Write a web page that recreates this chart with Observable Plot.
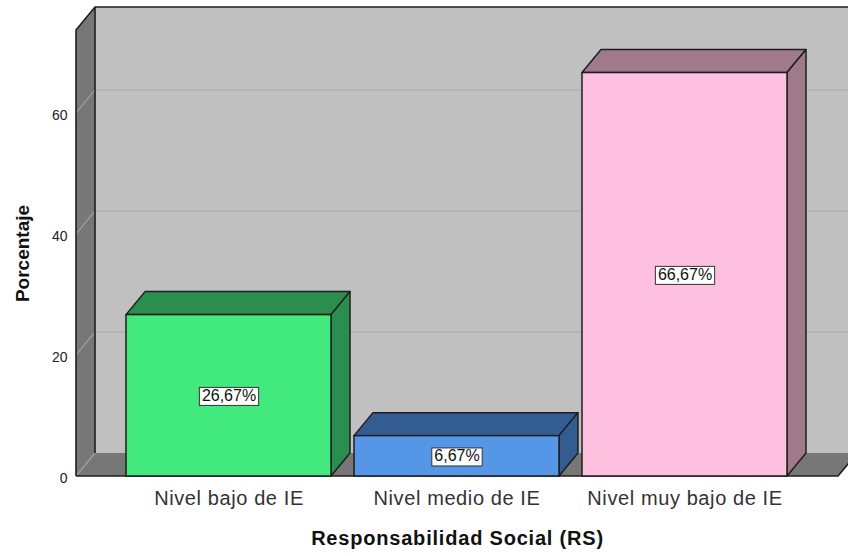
<!DOCTYPE html>
<html><head><meta charset="utf-8">
<script src="https://cdn.jsdelivr.net/npm/d3@7"></script>
<script src="https://cdn.jsdelivr.net/npm/@observablehq/plot@0.6"></script>
<style>
html,body{margin:0;padding:0;background:#fff;overflow:hidden}
#chart svg{display:block;overflow:hidden}
</style></head><body><div id="chart"></div>
<script>
// ---- data ----
const categories = ["Nivel bajo de IE", "Nivel medio de IE", "Nivel muy bajo de IE"];
const percentages = [26.67, 6.67, 66.67];
const yTicks = [0, 20, 40, 60];
const yMax = 73.7;
const xTitle = "Responsabilidad Social (RS)";
const yTitle = "Porcentaje";
const frontColors = ["#42e97c", "#5597e6", "#ffc0e0"];
const sideColors = ["#2a8f4e", "#335d90", "#a07a8a"];

// ---- style constants (pixels) ----
const DX = 19, DY = 23;
const EDGE = "#1e1e1e";

const data = categories.map((c, i) => ({
  category: c,
  value: percentages[i],
  side: sideColors[i],
  label: percentages[i].toFixed(2).replace(".", ",") + "%"
}));

function walls(index, scales, values, dim) {
  const y = scales.y;
  const L = dim.marginLeft, R = dim.width - dim.marginRight, B = y(0), T = y(yMax);
  const g = d3.create("svg:g");
  g.append("rect").attr("x", L + DX).attr("y", T - DY).attr("width", R - L).attr("height", B - T).attr("fill", "#c0c0c0");
  g.append("path").attr("d", `M${L},${B}L${L},${T}L${L+DX},${T-DY}L${L+DX},${B-DY}Z`).attr("fill", "#777777");
  g.append("path").attr("d", `M${L},${B}L${R},${B}L${R+DX},${B-DY}L${L+DX},${B-DY}Z`).attr("fill", "#777777");
  for (const t of yTicks.slice(1)) {
    const yy = y(t);
    g.append("path").attr("d", `M${L},${yy}L${L+DX},${yy-DY}`).attr("stroke", "#a0a0a0").attr("stroke-width", 1.2).attr("fill", "none");
    g.append("path").attr("d", `M${L+DX},${yy-DY}L${R+DX},${yy-DY}`).attr("stroke", "#b0b0b0").attr("stroke-width", 1.5).attr("fill", "none");
  }
  g.append("path").attr("d", `M${L},${B}L${L+DX},${B-DY}`).attr("stroke", "#a0a0a0").attr("stroke-width", 1.2).attr("fill", "none");
  g.append("path").attr("d", `M${L},${B}L${L},${T}L${L+DX},${T-DY}L${R+DX+40},${T-DY}`).attr("stroke", EDGE).attr("stroke-width", 1.6).attr("fill", "none").attr("stroke-linejoin", "round");
  g.append("path").attr("d", `M${L+DX},${T-DY}L${L+DX},${B-DY}`).attr("stroke", EDGE).attr("stroke-width", 1.6).attr("fill", "none");
  g.append("path").attr("d", `M${L},${B}L${R},${B}L${R+DX},${B-DY}`).attr("stroke", EDGE).attr("stroke-width", 1.6).attr("fill", "none").attr("stroke-linejoin", "round");
  return g.node();
}

function depthFaces(index, scales) {
  const {x, y} = scales;
  const bw = typeof x.bandwidth === "function" ? x.bandwidth() : 0;
  const g = d3.create("svg:g");
  for (const d of data) {
    const x0 = x(d.category), x1 = x0 + bw, y0 = y(0), y1 = y(d.value);
    g.append("path")
      .attr("d", `M${x0},${y1}L${x0+DX},${y1-DY}L${x1+DX},${y1-DY}L${x1},${y1}Z`)
      .attr("fill", d.side).attr("stroke", EDGE).attr("stroke-width", 1.5).attr("stroke-linejoin", "round");
    g.append("path")
      .attr("d", `M${x1},${y1}L${x1+DX},${y1-DY}L${x1+DX},${y0-DY}L${x1},${y0}Z`)
      .attr("fill", d.side).attr("stroke", EDGE).attr("stroke-width", 1.5).attr("stroke-linejoin", "round");
  }
  return g.node();
}

const chart = Plot.plot({
  width: 848,
  height: 556,
  marginLeft: 76,
  marginRight: 10,
  marginTop: 30,
  marginBottom: 80,
  style: {fontFamily: "'Liberation Sans', Arial, sans-serif", background: "#fff"},
  x: {domain: categories, paddingInner: 0.1, paddingOuter: 0.214, align: 0.5},
  y: {domain: [0, yMax]},
  color: {domain: categories, range: frontColors},
  marks: [
    walls,
    depthFaces,
    Plot.barY(data, {x: "category", y: "value", fill: "category", stroke: EDGE, strokeWidth: 1.5}),
    Plot.text(data, {x: "category", y: d => d.value / 2, text: "label", fontSize: 16, fill: "#111"}),
    Plot.axisY({ticks: yTicks, tickSize: 0, tickPadding: 9, fontSize: 14, color: "#222", label: null, dy: 2}),
    Plot.axisX({tickSize: 0, tickPadding: 14, fontSize: 20, color: "#333", label: null, style: {letterSpacing: "0.5px"}}),
    Plot.text([yTitle], {frameAnchor: "left", textAnchor: "middle", dx: -54, rotate: -90, fontWeight: "bold", fontSize: 19, fill: "#111"}),
    Plot.text([xTitle], {frameAnchor: "bottom", dy: 68, fontWeight: "bold", fontSize: 20, fill: "#111"})
  ]
});
document.getElementById("chart").appendChild(chart);

// letter spacing for the x tick labels and x title
chart.querySelectorAll("text").forEach(t => {
  if (categories.includes(t.textContent)) t.setAttribute("letter-spacing", "0.6");
  if (t.textContent === xTitle) t.setAttribute("letter-spacing", "0.8");
});

// white boxes behind the value labels
chart.querySelectorAll("text").forEach(t => {
  if (!/%$/.test(t.textContent) || t.closest("[aria-label*='axis']")) return;
  const b = t.getBBox();
  const r = document.createElementNS("http://www.w3.org/2000/svg", "rect");
  r.setAttribute("x", b.x - 2.5);
  r.setAttribute("y", b.y + 0.5);
  r.setAttribute("width", b.width + 5);
  r.setAttribute("height", b.height + 1);
  r.setAttribute("fill", "#fff");
  r.setAttribute("stroke", "#333");
  r.setAttribute("stroke-width", 1);
  const tr = t.getAttribute("transform");
  if (tr) r.setAttribute("transform", tr);
  t.parentNode.insertBefore(r, t);
});
</script>
</body></html>
